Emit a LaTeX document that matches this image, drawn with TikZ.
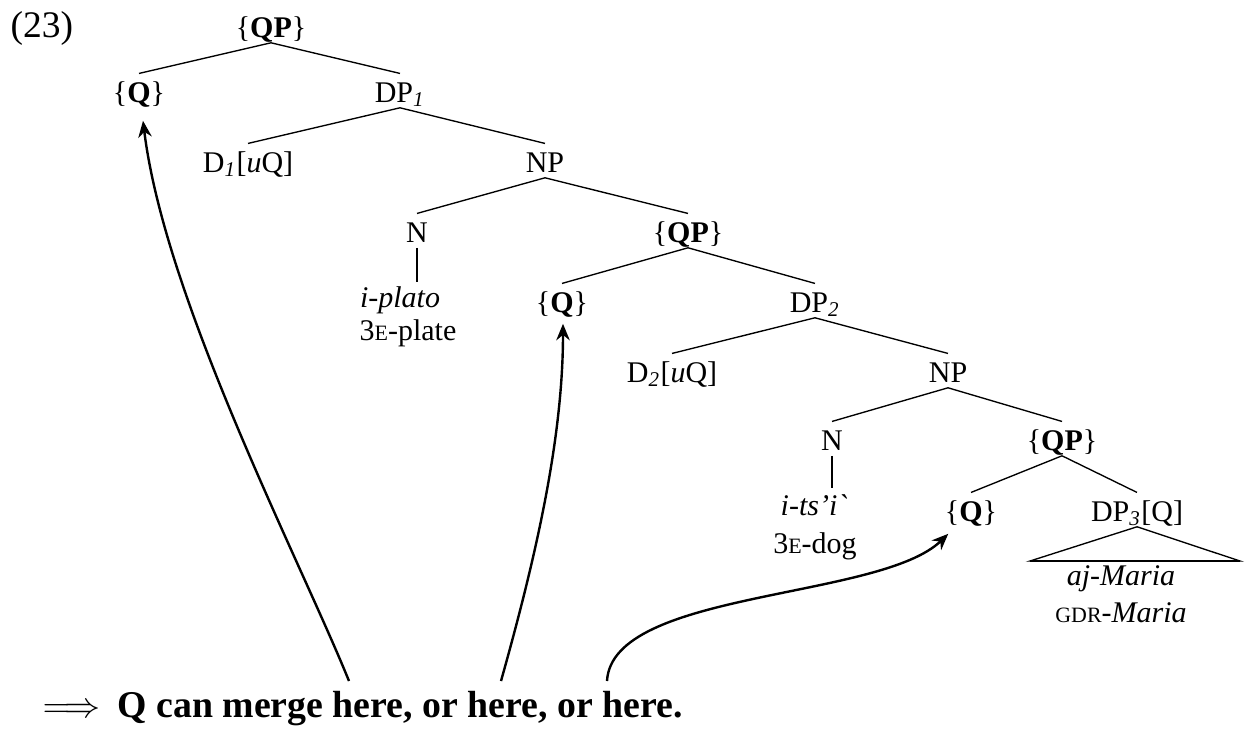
\documentclass[tikz,border=0pt]{standalone}
\usepackage{fontspec}
\setmainfont{Liberation Serif}
\usetikzlibrary{calc}
\usetikzlibrary{arrows.meta}
\newcommand{\smc}[1]{{\fontsize{7.3}{9}\selectfont #1}}
\tikzset{lab/.style={anchor=base, inner xsep=1pt, inner ysep=0.5pt, text height=8.8pt, text depth=1.2pt},
  word/.style={anchor=base, inner sep=0pt, align=center},
  big/.style={anchor=base west, inner sep=0pt, font=\fontsize{12.6}{15}\selectfont},
  move/.style={-{Stealth[length=5.5pt,width=4.5pt,inset=1.8pt]}, line width=0.8pt}}
\begin{document}
\begin{tikzpicture}[x=0.3333pt,y=-0.3333pt,line width=0.45pt]
\useasboundingbox (0,0) rectangle (1248,729);
\node[anchor=base west, inner sep=0pt, font=\fontsize{12.5}{14}\selectfont] (ex) at (10,37) {(23)};
\node[lab] (qp1) at (271,37) {\{\textbf{QP}\}};
\node[lab] (q1) at (139,102) {\{\textbf{Q}\}};
\node[lab] (dp1) at (400,102) {DP$_{\mathit{1}}$};
\node[lab] (d1) at (248,172) {D$_{\mathit{1}}$[\textit{u}Q]};
\node[lab] (np1) at (545,172) {NP};
\node[lab] (n1) at (417,242) {N};
\node[lab] (qp2) at (688,242) {\{\textbf{QP}\}};
\node[word] (w1) at (400,307) {\textit{i-plato}};
\node[word] (g1) at (408,340) {3\smc{E}-plate};
\node[lab] (q2) at (562,312) {\{\textbf{Q}\}};
\node[lab] (dp2) at (815,312) {DP$_{\mathit{2}}$};
\node[lab] (d2) at (672,382) {D$_{\mathit{2}}$[\textit{u}Q]};
\node[lab] (np2) at (948,382) {NP};
\node[lab] (n2) at (832,450) {N};
\node[lab] (qp3) at (1062,450) {\{\textbf{QP}\}};
\node[word] (w2) at (814,515) {\textit{i-ts'i\textasciigrave}};
\node[word] (g2) at (815,553) {3\smc{E}-dog};
\node[lab] (q3) at (971,521) {\{\textbf{Q}\}};
\node[lab] (dp3) at (1137,521) {DP$_{\mathit{3}}$[Q]};
\coordinate (tl) at (1030,561);
\coordinate (tr) at (1240,561);
\node[word] (w3) at (1121,585) {\textit{aj-Maria}};
\node[word] (g3) at (1121,622) {\smc{GDR}-\textit{Maria}};
\node[big] (impl) at (42,717) {$\Longrightarrow$};
\node[big] (concl) at (117,717) {\textbf{Q can merge here, or here, or here.}};
\coordinate (here1) at (349,681);
\coordinate (here2) at (501,681);
\coordinate (here3) at (607,681);
\draw (qp1.south) -- (q1.north);
\draw (qp1.south) -- (dp1.north);
\draw (dp1.south) -- (d1.north);
\draw (dp1.south) -- (np1.north);
\draw (np1.south) -- (n1.north);
\draw (np1.south) -- (qp2.north);
\draw (n1.south) -- (n1.south |- 0,282);
\draw (qp2.south) -- (q2.north);
\draw (qp2.south) -- (dp2.north);
\draw (dp2.south) -- (d2.north);
\draw (dp2.south) -- (np2.north);
\draw (np2.south) -- (n2.north);
\draw (np2.south) -- (qp3.north);
\draw (n2.south) -- (n2.south |- 0,488);
\draw (qp3.south) -- (q3.north);
\draw (qp3.south) -- (dp3.north);
\draw (dp3.south) -- (tl) -- (tr) -- cycle;
\draw[line width=0.8pt] (tl) -- (tr);
\draw[move] (here1) .. controls (300,560) and (165,300) .. ($(q1.south)+(4,13)$);
\draw[move] (here2) .. controls (535,560) and (563,440) .. ($(q2.south)+(1,6)$);
\draw[move] (here3) .. controls (612,590) and (880,600) .. ($(q3.south west)+(7,7)$);
\end{tikzpicture}
\end{document}
